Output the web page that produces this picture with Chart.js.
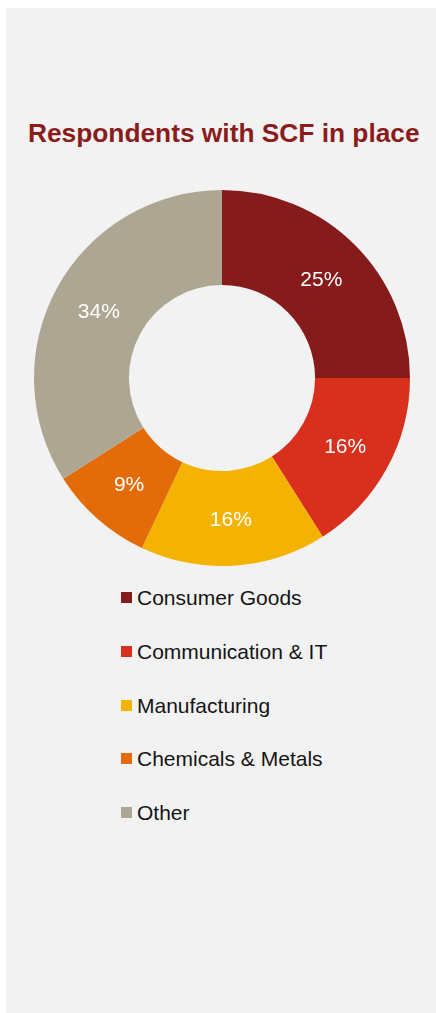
<!DOCTYPE html>
<html>
<head>
<meta charset="utf-8">
<script src="https://cdn.jsdelivr.net/npm/chart.js@4"></script>
<style>
  html, body { margin: 0; padding: 0; background: #ffffff; }
  body { width: 436px; height: 1013px; position: relative; overflow: hidden;
         font-family: "Liberation Sans", Arial, sans-serif; }
  #panel { position: absolute; left: 6px; top: 8px; width: 430px; height: 1005px; background: #f2f2f2; }
  #titulo { position: absolute; left: 22px; top: 111.5px; font-size: 26.3px; line-height: 27px;
            font-weight: bold; color: #8a1c1c; white-space: nowrap; }
  #caixaGrafico { position: absolute; left: 0px; top: 182px; width: 430px; height: 376px; }
  .itemLegenda { position: absolute; left: 115px; height: 21px; font-size: 21px; line-height: 21px;
                 color: #151515; white-space: nowrap; }
  .itemLegenda span { position: absolute; left: 0; top: 5px; width: 11px; height: 11px; }
  .itemLegenda b { position: absolute; left: 16px; top: 0; font-weight: normal; }
</style>
</head>
<body>
<div id="panel">
  <div id="titulo">Respondents with SCF in place</div>
  <div id="caixaGrafico"><canvas id="graficoRosca"></canvas></div>
  <div id="legenda"></div>
</div>
<script>
  // setores e percentuais
  const setores = ["Consumer Goods", "Communication & IT", "Manufacturing", "Chemicals & Metals", "Other"];
  const percentuais = [25, 16, 16, 9, 34];
  const cores = ["#851b1b", "#d9301e", "#f5b301", "#e36c09", "#ada692"];

  // escreve o valor no meio de cada fatia
  const rotulosFatias = {
    id: "rotulosFatias",
    afterDatasetsDraw(chart) {
      const ctx = chart.ctx;
      const meta = chart.getDatasetMeta(0);
      ctx.save();
      ctx.fillStyle = "#ffffff";
      ctx.font = '21px "Liberation Sans", Arial, sans-serif';
      ctx.textAlign = "center";
      ctx.textBaseline = "middle";
      meta.data.forEach(function (arco, i) {
        const pos = arco.tooltipPosition();
        ctx.fillText(percentuais[i] + "%", pos.x, pos.y + 2);
      });
      ctx.restore();
    },
  };

  new Chart(document.getElementById("graficoRosca"), {
    type: "doughnut",
    data: {
      labels: setores,
      datasets: [
        {
          data: percentuais,
          backgroundColor: cores,
          borderWidth: 0,
          hoverOffset: 0,
        },
      ],
    },
    plugins: [rotulosFatias],
    options: {
      responsive: true,
      maintainAspectRatio: false,
      animation: false,
      cutout: "49.5%",
      layout: { padding: { left: 2 } },
      plugins: {
        legend: { display: false },
        tooltip: { enabled: false },
      },
    },
  });

  // legenda em coluna, alinhada a esquerda
  const legenda = document.getElementById("legenda");
  for (let i = 0; i < setores.length; i++) {
    const item = document.createElement("div");
    item.className = "itemLegenda";
    item.style.top = (579 + i * 53.8) + "px";
    const quadrado = document.createElement("span");
    quadrado.style.background = cores[i];
    const texto = document.createElement("b");
    texto.textContent = setores[i];
    item.appendChild(quadrado);
    item.appendChild(texto);
    legenda.appendChild(item);
  }
</script>
</body>
</html>
